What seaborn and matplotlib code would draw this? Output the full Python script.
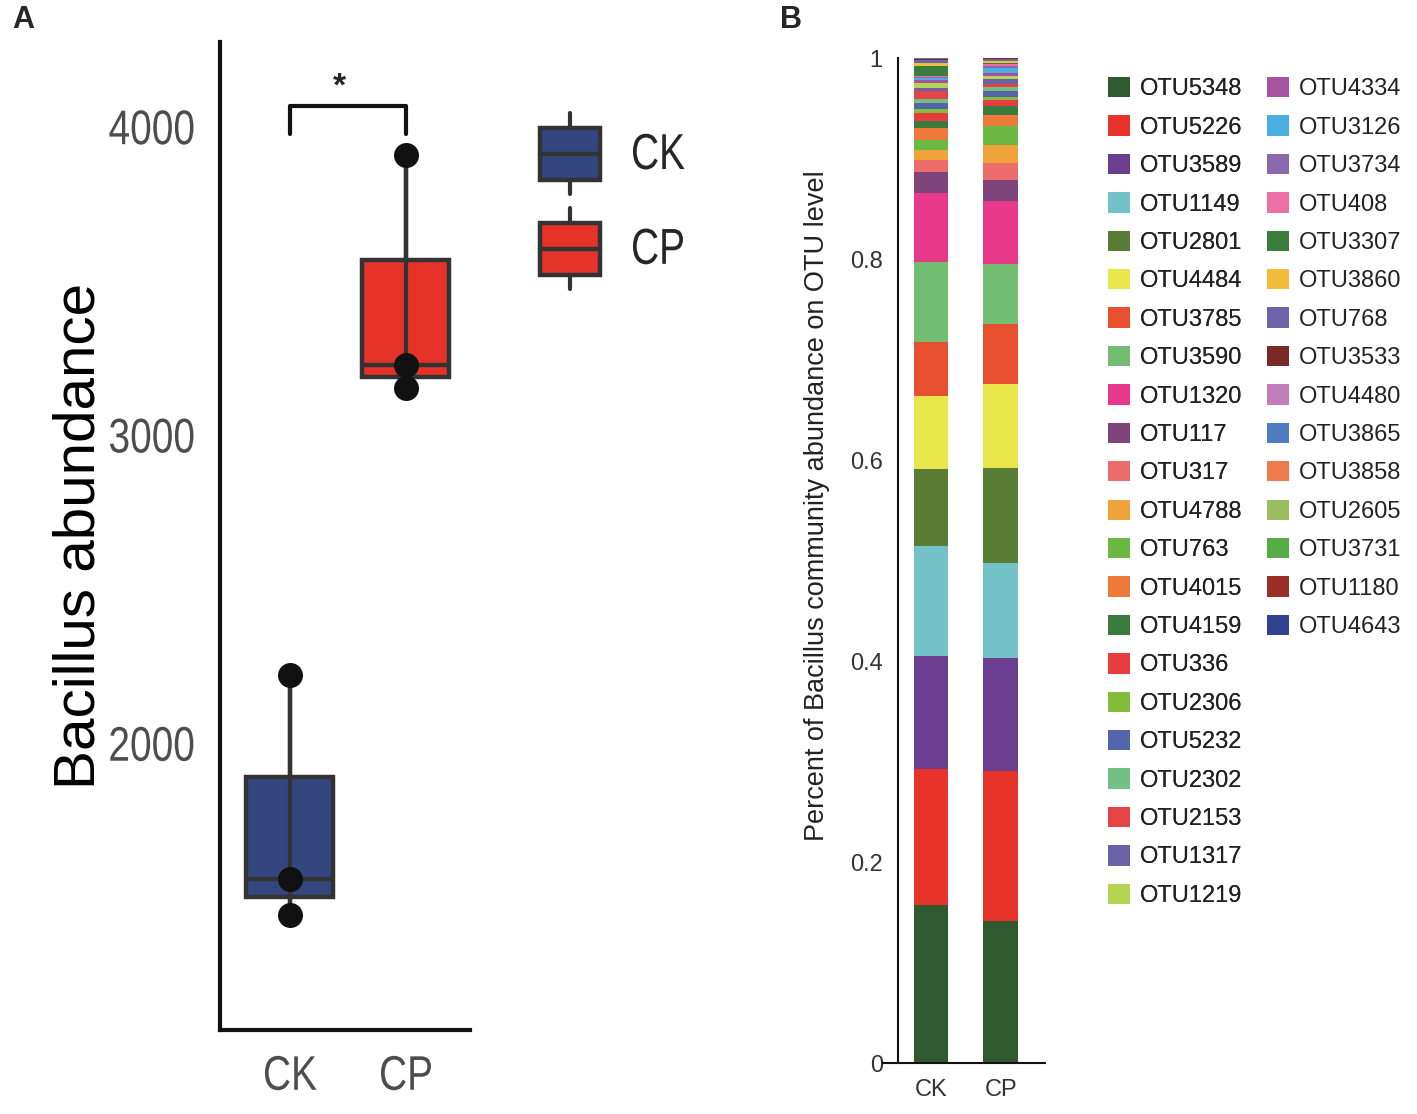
import numpy as np
import pandas as pd
import matplotlib
matplotlib.use("Agg")
import matplotlib.pyplot as plt
import seaborn as sns
from matplotlib.legend_handler import HandlerBase
from matplotlib.patches import Rectangle, Patch
from matplotlib.lines import Line2D
from matplotlib.patheffects import AbstractPathEffect
from matplotlib.transforms import Affine2D

# Panel A: Bacillus abundance per sample
groups_a = ["CK", "CK", "CK", "CP", "CP", "CP"]
abundance = [2222, 1560, 1443, 3908, 3227, 3152]
box_colors = {"CK": "#34467f", "CP": "#e5332a"}

# Panel B: OTU composition (bottom -> top)
otus = ["OTU5348", "OTU5226", "OTU3589", "OTU1149", "OTU2801", "OTU4484", "OTU3785",
        "OTU3590", "OTU1320", "OTU117", "OTU317", "OTU4788", "OTU763", "OTU4015",
        "OTU4159", "OTU336", "OTU2306", "OTU5232", "OTU2302", "OTU2153", "OTU1317",
        "OTU1219", "OTU4334", "OTU3126", "OTU3734", "OTU408", "OTU3307", "OTU3860",
        "OTU768", "OTU3533", "OTU4480", "OTU3865", "OTU3858", "OTU2605", "OTU3731",
        "OTU1180", "OTU4643"]
ck_share = [0.157, 0.136, 0.1125, 0.1095, 0.0757, 0.0733, 0.0534, 0.0796, 0.0684,
            0.0216, 0.0115, 0.010, 0.0095, 0.012, 0.0077, 0.008, 0.0033, 0.0066,
            0.0037, 0.008, 0.0025, 0.0055, 0.003, 0.0015, 0.0015, 0.0005, 0.0105,
            0.0025, 0.0035, 0.0005, 0.0005, 0.0004, 0.0003, 0.0002, 0.0002, 0.0002,
            0.0002]
cp_share = [0.142, 0.149, 0.1125, 0.0945, 0.094, 0.0836, 0.0594, 0.0597, 0.0633,
            0.0206, 0.0169, 0.0179, 0.0189, 0.0107, 0.009, 0.006, 0.0033, 0.006,
            0.004, 0.0024, 0.005, 0.0033, 0.0033, 0.0044, 0.0023, 0.002, 0.0013,
            0.0017, 0.0025, 0.0005, 0.0005, 0.0004, 0.0003, 0.0003, 0.0002, 0.0002,
            0.0002]
otu_colors = ["#2f5a2f", "#e8332a", "#6a3f8f", "#72c2c8", "#5a7d35", "#e8e64a", "#e6502e",
              "#73bd72", "#e8388a", "#7f4479", "#ec6b6b", "#f0a23b", "#6cb843", "#ee7a3a",
              "#3a7a3c", "#e63e3e", "#82bc3a", "#5466ab", "#74bf84", "#e54447", "#6b62a6",
              "#b5d451", "#a553a0", "#4aaee0", "#8a6aac", "#ed6fa8", "#3a7d3d", "#f2bd3a",
              "#6e62a8", "#7a2a25", "#c07dba", "#4f7bbf", "#ef7b4c", "#9abf60", "#54ad45",
              "#9a2f28", "#2f438f"]
samples_b = ["CK", "CP"]

sns.set_style("white")
plt.rcParams["font.family"] = ["Liberation Sans", "DejaVu Sans"]
dark = "#333333"


# stretch text vertically -> tall narrow look of the original labels
class Stretch(AbstractPathEffect):
    def __init__(self, sx=1.0, sy=1.25, ax_=0.0, ay_=0.0):
        super().__init__()
        self.sx, self.sy, self.ax_, self.ay_ = sx, sy, ax_, ay_

    def draw_path(self, renderer, gc, tpath, affine, rgbFace=None):
        v = tpath.vertices
        w = v[:, 0].max() if len(v) else 0
        h = v[:, 1].max() if len(v) else 0
        t = Affine2D().scale(self.sx, self.sy).translate(
            (1 - self.sx) * w * self.ax_, (1 - self.sy) * h * self.ay_)
        renderer.draw_path(gc, tpath, t + affine, rgbFace)


fig = plt.figure(figsize=(14.17, 11.14), dpi=100)

# ---------------- panel A ----------------
axA = fig.add_axes([220/1417, 84/1114, 250/1417, 988/1114])
dfA = pd.DataFrame({"group": groups_a, "abundance": abundance})
sns.boxplot(data=dfA, x="group", y="abundance", hue="group", palette=box_colors,
            width=0.75, linewidth=3.2, linecolor=dark, whis=(0, 100), showfliers=False,
            showcaps=False, saturation=1, legend=False, ax=axA)
sns.pointplot(data=dfA, x="group", y="abundance", estimator="median", errorbar=("pi", 100),
              color=dark, linestyle="none", markersize=0, err_kws={"linewidth": 3},
              ax=axA)
sns.stripplot(data=dfA, x="group", y="abundance", jitter=False, color="#111111",
              size=18, ax=axA)

axA.set_xlim(-0.603, 1.552)
axA.set_ylim(1070, 4275)
axA.set_yticks([2000, 3000, 4000])
sns.despine(ax=axA)
for s in ["left", "bottom"]:
    axA.spines[s].set_linewidth(3)
    axA.spines[s].set_color("#111111")
axA.tick_params(axis="both", length=10, width=2.2, color=dark, pad=8,
                labelsize=28, labelcolor="#4d4d4d")
for lab in axA.get_yticklabels():
    lab.set_path_effects([Stretch(1.0, 1.25, 1.0, 0.5)])
for lab in axA.get_xticklabels():
    lab.set_path_effects([Stretch(1.0, 1.25, 0.5, 1.0)])
axA.set_xlabel("")
axA.set_ylabel("Bacillus abundance", fontsize=42, color="black")
axA.yaxis.set_label_coords(-0.455, 0.5)

# significance bracket
axA.plot([0, 0, 1, 1], [3975, 4068, 4068, 3975], color="#111111", lw=3,
         solid_capstyle="round", clip_on=False)
axA.text(0.43, 4128, "*", fontsize=24, fontweight="bold", ha="center", va="center")


class BoxKey(HandlerBase):
    def create_artists(self, legend, orig_handle, xdescent, ydescent, width, height,
                       fontsize, trans):
        x0, y0 = -xdescent, -ydescent
        cx = x0 + width / 2
        wh = Line2D([cx, cx], [y0, y0 + height], color=dark, lw=3, transform=trans)
        box = Rectangle((x0, y0 + 0.17 * height), width, 0.64 * height,
                        facecolor=orig_handle.get_facecolor(), edgecolor=dark,
                        lw=3.2, transform=trans)
        med = Line2D([x0, x0 + width], [y0 + 0.49 * height] * 2, color=dark, lw=3.2,
                     transform=trans)
        return [wh, box, med]


hA = [Patch(facecolor=box_colors[g]) for g in ["CK", "CP"]]
legA = fig.legend(hA, ["CK", "CP"], loc="upper left",
                  bbox_to_anchor=(540/1417, 1 - 113/1114), frameon=False,
                  handler_map={Patch: BoxKey()}, prop={"size": 28},
                  handlelength=1.54, handleheight=2.82, handletextpad=0.8,
                  labelspacing=0.36, borderpad=0, borderaxespad=0)
for t in legA.get_texts():
    t.set_path_effects([Stretch(1.0, 1.3, 0.0, 0.5)])

# ---------------- panel B ----------------
axB = fig.add_axes([883/1417, 50.7/1114, 162/1417, 1005.3/1114])
cum_ck = np.cumsum(ck_share)
cum_cp = np.cumsum(cp_share)
for i in range(len(otus) - 1, -1, -1):
    sns.barplot(x=samples_b, y=[cum_ck[i], cum_cp[i]], color=otu_colors[i],
                width=0.5, saturation=1, linewidth=0, errorbar=None, ax=axB)
axB.set_xlim(-0.686, 1.629)
axB.set_ylim(0, 1)
axB.set_yticks([0, 0.2, 0.4, 0.6, 0.8, 1.0])
axB.set_yticklabels(["0", "0.2", "0.4", "0.6", "0.8", "1"])
sns.despine(ax=axB)
axB.spines["left"].set_position(("data", -0.471))
axB.spines["left"].set_bounds(0, 1)
for s in ["left", "bottom"]:
    axB.spines[s].set_linewidth(1.5)
    axB.spines[s].set_color("#111111")
axB.set_xticks([-0.543], minor=True)
axB.tick_params(axis="both", which="both", length=7, width=1.5, color="#111111",
                labelsize=17, labelcolor=dark, pad=4)
axB.set_xlabel("")
axB.set_ylabel("Percent of Bacillus community abundance on OTU level",
               fontsize=19.5, color="#222222")
axB.yaxis.set_label_coords(-0.33, 0.555)

hB = [Patch(facecolor=c, edgecolor="none") for c in otu_colors]
leg_kw = dict(loc="upper left", frameon=False, fontsize=17, handlelength=0.95,
              handleheight=0.95, handletextpad=0.42, labelspacing=0.64, borderpad=0,
              borderaxespad=0, labelcolor="#222222")
leg1 = fig.legend(hB[:22], otus[:22], bbox_to_anchor=(1108/1417, 1 - 77/1114), **leg_kw)
fig.add_artist(leg1)
leg2 = fig.legend(hB[22:], otus[22:], bbox_to_anchor=(1267/1417, 1 - 77/1114), **leg_kw)

fig.text(12/1417, 1 - 5/1114, "A", fontsize=22, fontweight="bold", va="top")
fig.text(780/1417, 1 - 5/1114, "B", fontsize=22, fontweight="bold", va="top")

fig.savefig("out.png", dpi=100)
